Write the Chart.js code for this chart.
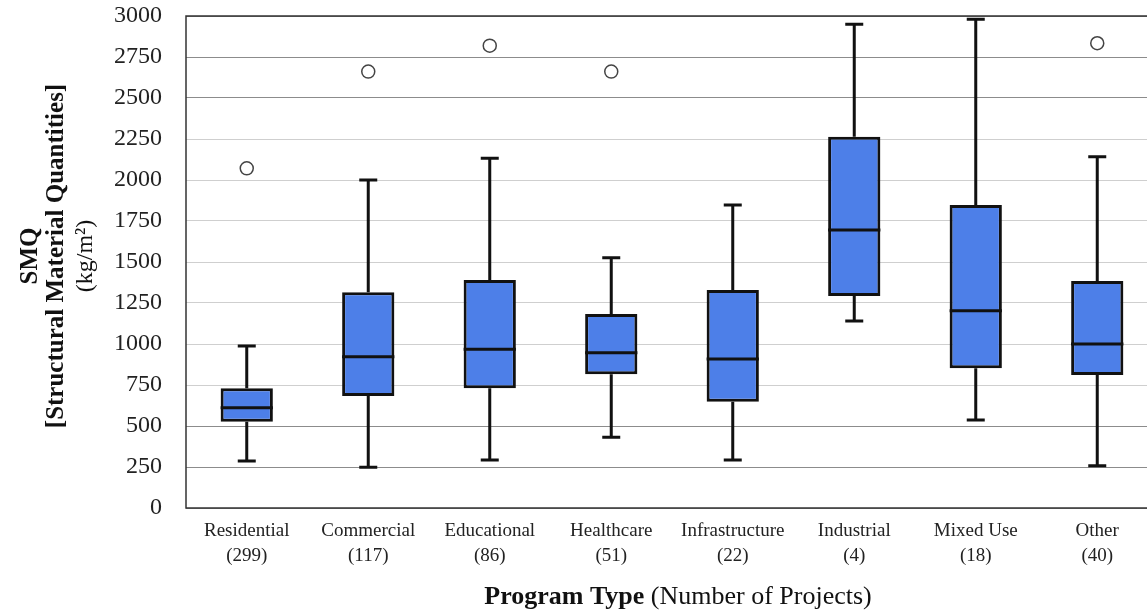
<!DOCTYPE html>
<html>
<head>
<meta charset="utf-8">
<script src="https://cdn.jsdelivr.net/npm/chart.js@4/dist/chart.umd.min.js"></script>
<style>
  html, body { margin: 0; padding: 0; background: #fff; overflow: hidden; }
  #wrap { width: 1170px; height: 613px; }
</style>
</head>
<body>
<div id="wrap"><canvas id="smqChart" width="1170" height="613"></canvas></div>
<script>
// Box plot values (kg/m2)
const programs = ['Residential', 'Commercial', 'Educational', 'Healthcare', 'Infrastructure', 'Industrial', 'Mixed Use', 'Other'];
const projectCounts = [299, 117, 86, 51, 22, 4, 18, 40];
const whiskerLow  = [287, 248, 293, 431, 293, 1140, 537, 258];
const quartile1   = [526, 683, 730, 815, 648, 1293, 852, 811];
const medians     = [612, 923, 968, 947, 909, 1695, 1203, 1000];
const quartile3   = [730, 1315, 1390, 1183, 1329, 2264, 1848, 1384];
const whiskerHigh = [988, 2000, 2132, 1526, 1848, 2950, 2980, 2142];
const outliers    = [2071, 2661, 2819, 2661, null, null, null, 2834];

const boxColor = '#4d7fe8';
const inkColor = '#111';
const serif = "'Liberation Serif', 'DejaVu Serif', serif";

// whiskers + caps behind the boxes, medians on top
const boxPlotPlugin = {
    id: 'boxPlot',
    beforeDatasetsDraw(chart) {
        const { ctx, scales: { x, y } } = chart;
        ctx.save();
        ctx.strokeStyle = inkColor;
        ctx.lineWidth = 3;
        programs.forEach((p, i) => {
            const cx = x.getPixelForValue(i);
            ctx.beginPath();
            ctx.moveTo(cx, y.getPixelForValue(whiskerLow[i]));
            ctx.lineTo(cx, y.getPixelForValue(quartile1[i]));
            ctx.moveTo(cx, y.getPixelForValue(quartile3[i]));
            ctx.lineTo(cx, y.getPixelForValue(whiskerHigh[i]));
            ctx.stroke();
            // caps
            ctx.beginPath();
            [whiskerLow[i], whiskerHigh[i]].forEach(v => {
                const py = y.getPixelForValue(v);
                ctx.moveTo(cx - 9, py);
                ctx.lineTo(cx + 9, py);
            });
            ctx.stroke();
        });
        ctx.restore();
    },
    afterDatasetsDraw(chart) {
        const { ctx, chartArea, scales: { y } } = chart;
        const meta = chart.getDatasetMeta(0);
        ctx.save();
        ctx.strokeStyle = inkColor;
        ctx.lineWidth = 3;
        meta.data.forEach((bar, i) => {
            const py = y.getPixelForValue(medians[i]);
            ctx.beginPath();
            ctx.moveTo(bar.x - bar.width / 2, py);
            ctx.lineTo(bar.x + bar.width / 2, py);
            ctx.stroke();
        });
        // frame around the plot
        ctx.strokeStyle = '#333';
        ctx.lineWidth = 1.5;
        ctx.strokeRect(chartArea.left, chartArea.top, chartArea.right - chartArea.left, chartArea.bottom - chartArea.top);
        ctx.restore();
    }
};

// axis titles with mixed weights
const titlesPlugin = {
    id: 'titles',
    afterDraw(chart) {
        const { ctx } = chart;
        ctx.save();
        ctx.fillStyle = '#111';
        ctx.textBaseline = 'middle';
        ctx.textAlign = 'center';

        // y title, three rotated lines
        const yLines = [
            { text: 'SMQ', x: 31, font: 'bold 25px ' + serif },
            { text: '[Structural Material Quantities]', x: 57, font: 'bold 25px ' + serif },
            { text: '(kg/m\u00B2)', x: 86, font: '24px ' + serif }
        ];
        yLines.forEach(l => {
            ctx.save();
            ctx.translate(l.x, 256);
            ctx.rotate(-Math.PI / 2);
            ctx.font = l.font;
            ctx.fillText(l.text, 0, 0);
            ctx.restore();
        });

        // x title
        const boldPart = 'Program Type';
        const plainPart = ' (Number of Projects)';
        ctx.textAlign = 'left';
        ctx.font = 'bold 26px ' + serif;
        const wB = ctx.measureText(boldPart).width;
        ctx.font = '26px ' + serif;
        const wP = ctx.measureText(plainPart).width;
        const startX = 678 - (wB + wP) / 2;
        ctx.font = 'bold 26px ' + serif;
        ctx.fillText(boldPart, startX, 597);
        ctx.font = '26px ' + serif;
        ctx.fillText(plainPart, startX + wB, 597);
        ctx.restore();
    }
};

const lightTicks = [750, 1000, 1250, 1500, 1750, 2000, 2250];

new Chart(document.getElementById('smqChart'), {
    type: 'bar',
    data: {
        labels: programs.map((p, i) => [p, '(' + projectCounts[i] + ')']),
        datasets: [{
            label: 'IQR',
            data: programs.map((p, i) => [quartile1[i], quartile3[i]]),
            backgroundColor: boxColor,
            borderColor: inkColor,
            borderWidth: 3,
            borderSkipped: false,
            barPercentage: 0.43,
            categoryPercentage: 1.0
        }, {
            type: 'line',
            label: 'Outliers',
            data: outliers,
            showLine: false,
            pointStyle: 'circle',
            pointRadius: 6.5,
            pointBorderWidth: 1.5,
            pointBorderColor: '#444',
            pointBackgroundColor: '#fff'
        }]
    },
    options: {
        responsive: false,
        animation: false,
        layout: { padding: { top: 16, right: 12, left: 0, bottom: 0 } },
        plugins: {
            legend: { display: false },
            tooltip: { enabled: false }
        },
        scales: {
            x: {
                grid: { display: false, drawTicks: false },
                border: { display: false },
                ticks: {
                    color: '#222',
                    padding: 11,
                    maxRotation: 0,
                    font: { family: serif, size: 19, lineHeight: 1.3 }
                },
                afterFit: scale => { scale.height = 105; }
            },
            y: {
                min: 0,
                max: 3000,
                grid: {
                    drawTicks: false,
                    lineWidth: 1,
                    color: c => lightTicks.includes(c.tick.value) ? '#cfcfcf' : '#8c8c8c'
                },
                border: { display: false },
                ticks: {
                    stepSize: 250,
                    padding: 24,
                    color: '#222',
                    font: { family: serif, size: 24 },
                    callback: v => String(v)
                },
                afterFit: scale => {
                    scale.width = 186;
                    scale.paddingTop = 0;
                    scale.paddingBottom = 0;
                }
            }
        }
    },
    plugins: [boxPlotPlugin, titlesPlugin]
});
</script>
</body>
</html>
